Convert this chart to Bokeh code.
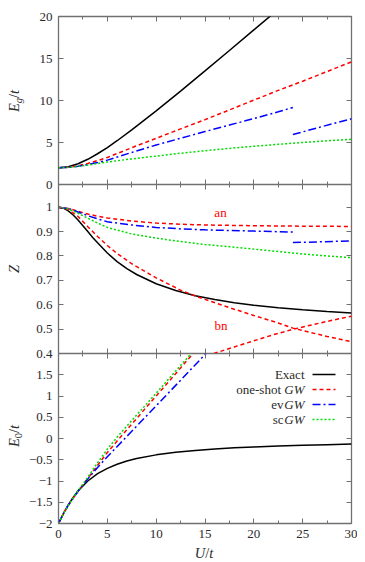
from bokeh.plotting import figure
from bokeh.models import (Range1d, LinearAxis, FixedTicker, CustomJSTickFormatter, Label,
                          CustomLabelingPolicy, Div)
from bokeh.layouts import column
from bokeh.embed import file_html
from bokeh.resources import INLINE

# ---------------- data ----------------
# top panel: E_g / t
u_eg_exact = [0, 1, 2, 3, 4, 5, 6, 7.5, 10, 12.5, 15, 17.5, 20, 22.5]
eg_exact = [2.0, 2.12, 2.47, 3.0, 3.66, 4.40, 5.21, 6.5, 8.77, 11.12, 13.52, 15.95, 18.40, 20.85]
u_eg_g0w0 = [0, 1, 2, 3, 4, 5, 7.5, 10, 12.5, 15, 17.5, 20, 22.5, 25, 27.5, 30]
eg_g0w0 = [2.0, 2.05, 2.22, 2.5, 2.85, 3.22, 4.38, 5.5, 6.62, 7.72, 8.88, 10.05, 11.2, 12.3, 13.45, 14.6]
u_eg_evgw_a = [0, 1, 2, 3, 4, 5, 7.5, 10, 12.5, 15, 17.5, 20, 22.5, 24]
eg_evgw_a = [2.0, 2.04, 2.17, 2.37, 2.62, 2.9, 3.82, 4.7, 5.5, 6.3, 7.08, 7.85, 8.65, 9.17]
u_eg_evgw_b = [24, 27, 30]
eg_evgw_b = [5.95, 6.9, 7.82]
u_eg_scgw = [0, 1, 2, 3, 4, 5, 7.5, 10, 12.5, 15, 17.5, 20, 22.5, 25, 27.5, 30]
eg_scgw = [2.0, 2.04, 2.16, 2.3, 2.5, 2.68, 3.05, 3.38, 3.72, 4.02, 4.3, 4.55, 4.78, 5.0, 5.2, 5.38]

# middle panel: Z
u_z_exact = [0, 0.5, 1, 1.5, 2, 2.5, 3, 3.5, 4, 5, 6, 7, 8, 10, 12, 14, 16, 18, 20, 22.5, 25, 27.5, 30]
z_exact = [1.0, 0.996, 0.985, 0.968, 0.947, 0.924, 0.9, 0.876, 0.854, 0.812, 0.777, 0.748, 0.724,
           0.686, 0.658, 0.637, 0.621, 0.608, 0.598, 0.588, 0.579, 0.572, 0.566]
u_z_g0w0_an = [0, 1, 2, 3, 4, 5, 7.5, 10, 12.5, 15, 20, 25, 30]
z_g0w0_an = [1.0, 0.995, 0.983, 0.972, 0.963, 0.956, 0.943, 0.935, 0.93, 0.927, 0.924, 0.922, 0.921]
u_z_g0w0_bn = [0, 1, 2, 3, 4, 5, 6, 7.5, 10, 12.5, 14, 15, 17.5, 20, 22.5, 24, 25, 27.5, 30]
z_g0w0_bn = [1.0, 0.99, 0.962, 0.92, 0.88, 0.843, 0.81, 0.768, 0.71, 0.66, 0.636, 0.622, 0.588,
             0.556, 0.525, 0.504, 0.494, 0.47, 0.448]
u_z_g0w0_rise = [15.9, 18, 20, 22, 24.1, 26, 28, 30]
z_g0w0_rise = [0.4, 0.427, 0.452, 0.477, 0.5, 0.518, 0.536, 0.553]
u_z_evgw_a = [0, 1, 2, 3, 4, 5, 7.5, 10, 12.5, 15, 20, 24]
z_evgw_a = [1.0, 0.995, 0.98, 0.965, 0.952, 0.94, 0.927, 0.917, 0.911, 0.907, 0.902, 0.898]
u_z_evgw_b = [24, 27, 30]
z_evgw_b = [0.855, 0.858, 0.862]
u_z_scgw = [0, 1, 2, 3, 4, 5, 7.5, 10, 12.5, 15, 17.5, 20, 22.5, 25, 27.5, 30]
z_scgw = [1.0, 0.993, 0.975, 0.955, 0.935, 0.917, 0.89, 0.873, 0.859, 0.847, 0.838, 0.828,
          0.818, 0.808, 0.8, 0.793]

# bottom panel: E_0 / t
u_e0_exact = [0, 0.5, 1, 1.5, 2, 3, 4, 5, 6, 7, 8, 10, 12, 14, 16, 18, 20, 22.5, 25, 27.5, 30]
e0_exact = [-2.0, -1.766, -1.562, -1.386, -1.236, -1.0, -0.828, -0.702, -0.606, -0.531, -0.472,
            -0.385, -0.325, -0.28, -0.246, -0.22, -0.198, -0.176, -0.159, -0.145, -0.132]
u_e0_g0w0 = [0, 0.5, 1, 2, 3, 4, 5, 6, 7.5, 10, 12.5, 13.8]
e0_g0w0 = [-2.0, -1.77, -1.57, -1.24, -0.94, -0.63, -0.33, -0.06, 0.34, 1.0, 1.66, 2.0]
u_e0_evgw = [0, 0.5, 1, 2, 3, 4, 5, 7.5, 10, 12.5, 15.1]
e0_evgw = [-2.0, -1.77, -1.57, -1.24, -0.95, -0.68, -0.43, 0.17, 0.77, 1.37, 2.0]
u_e0_scgw = [0, 0.5, 1, 2, 3, 4, 5, 6, 7.5, 10, 12.5, 13.6]
e0_scgw = [-2.0, -1.77, -1.57, -1.23, -0.91, -0.57, -0.25, 0.03, 0.42, 1.07, 1.72, 2.0]

# ticks
x_ticks = [0, 5, 10, 15, 20, 25, 30]
x_minor = [2.5, 7.5, 12.5, 17.5, 22.5, 27.5]
eg_ticks = [0, 5, 10, 15, 20]
z_ticks = [0.4, 0.5, 0.6, 0.7, 0.8, 0.9, 1.0]
e0_ticks = [-2, -1.5, -1, -0.5, 0, 0.5, 1, 1.5]

legend_names = ["Exact", "one-shot", "ev", "sc"]
legend_suffix = ["", "GW", "GW", "GW"]

# ---------------- styles ----------------
FONT = "Liberation Serif"
GRAY = "#707070"
TXT = "#2a2a2a"
C_EX, C_G0, C_EV, C_SC = "#000000", "#ff0000", "#0000ff", "#00dd00"
D_G0, D_EV, D_SC = "4 3", "8 3 2 3", "2 2"
LW = 1.5

W = 357
FL = 58          # frame left
FT = 16          # frame top
FW = 293         # frame width
H_TOP, H_MID, H_BOT = 168, 169, 170
B_BOT = 37
TOTAL_H = FT + H_TOP + H_MID + H_BOT + B_BOT   # 560
MID_TOP = 1.093

xr = Range1d(0, 30)
fmt = CustomJSTickFormatter(code="return tick < 0 ? '\\u2212' + String(-tick) : String(tick);")
no_labels = CustomLabelingPolicy(code="for (const i of [...indices]) indices.unset(i)")

# helpers converting layout pixels to data (for annotations only)
def ux(xpx):
    return (xpx - FL) * 30.0 / FW

def mid_y(ypx):
    return 0.4 + (353 - ypx) * (MID_TOP - 0.4) / H_MID

def bot_y(ypx):
    return 2 - (ypx - 353) * 4.0 / H_BOT


def style_axis(ax, ticks, minor, labels):
    ax.ticker = FixedTicker(ticks=ticks, minor_ticks=minor)
    ax.axis_line_color = None
    ax.major_tick_in = 5
    ax.major_tick_out = 0
    ax.minor_tick_in = 3
    ax.minor_tick_out = 0
    ax.major_tick_line_color = GRAY
    ax.minor_tick_line_color = GRAY if minor else None
    if labels:
        ax.formatter = fmt
        ax.major_label_text_font = FONT
        ax.major_label_text_font_size = "13px"
        ax.major_label_text_color = TXT
        ax.major_label_standoff = 6
    else:
        ax.major_label_text_font_size = "0px"
        ax.major_label_standoff = 0
        ax.major_label_policy = no_labels


def make(height, y0, y1, yticks, btop, bbot, xlabels, mtop):
    p = figure(width=W, height=height, x_range=xr, y_range=Range1d(y0, y1),
               output_backend="svg", toolbar_location=None,
               min_border_left=FL, min_border_right=W - FL - FW,
               min_border_top=btop, min_border_bottom=bbot)
    p.margin = (mtop, 0, 0, 0)
    p.border_fill_alpha = 0
    p.background_fill_color = "white"
    p.outline_line_color = GRAY
    p.outline_line_width = 1.3
    p.xgrid.visible = False
    p.ygrid.visible = False
    style_axis(p.xaxis[0], x_ticks, x_minor, xlabels)
    style_axis(p.yaxis[0], yticks, [], True)
    top_ax = LinearAxis()
    style_axis(top_ax, x_ticks, x_minor, False)
    p.add_layout(top_ax, "above")
    right_ax = LinearAxis()
    style_axis(right_ax, yticks, [], False)
    p.add_layout(right_ax, "right")
    return p


def lab(p, x, y, text, size="13px", style="normal", color=TXT, align="center"):
    p.add_layout(Label(x=x, y=y, text=text, text_font=FONT,
                       text_font_style=style, text_font_size=size, text_color=color,
                       text_align=align, text_baseline="middle"))


# ---------------- axis titles (HTML, behind transparent figure borders) ----------------
def vtitle(cx, cy, inner):
    return ('<div style="position:absolute;left:%dpx;top:%dpx;white-space:nowrap;'
            'transform:translate(-50%%,-50%%) rotate(-90deg);font-size:14.5px;line-height:1">%s</div>'
            % (cx, cy, inner))

SUB = '<span style="font-size:10.5px;position:relative;top:3px">%s</span>'
titles_html = (
    '<div style="position:relative;width:%dpx;height:%dpx;font-family:\'Liberation Serif\';color:%s">'
    % (W, TOTAL_H, TXT)
    + vtitle(14, 101, '<i>E</i>' + SUB % '<i>g</i>' + '/<i>t</i>')
    + vtitle(14, 269, '<i>Z</i>')
    + vtitle(14, 436, '<i>E</i>' + SUB % '0' + '/<i>t</i>')
    + '<div style="position:absolute;left:204px;top:553px;white-space:nowrap;'
      'transform:translate(-50%,-50%);font-size:14.5px;line-height:1"><i>U</i>/<i>t</i></div>'
    + '</div>'
)
titles = Div(text=titles_html, width=W, height=TOTAL_H, margin=0)

# ---------------- top panel ----------------
p1 = make(FT + H_TOP + 8, 0, 20, eg_ticks, FT, 8, False, -TOTAL_H)
p1.line(u_eg_exact, eg_exact, line_color=C_EX, line_width=LW)
p1.line(u_eg_g0w0, eg_g0w0, line_color=C_G0, line_width=LW, line_dash=D_G0)
p1.line(u_eg_evgw_a, eg_evgw_a, line_color=C_EV, line_width=LW, line_dash=D_EV)
p1.line(u_eg_evgw_b, eg_evgw_b, line_color=C_EV, line_width=LW, line_dash=D_EV)
p1.line(u_eg_scgw, eg_scgw, line_color=C_SC, line_width=LW, line_dash=D_SC)

# ---------------- middle panel ----------------
p2 = make(H_MID + 8, 0.4, MID_TOP, z_ticks, 0, 8, False, -8)
p2.line(u_z_exact, z_exact, line_color=C_EX, line_width=LW)
p2.line(u_z_g0w0_an, z_g0w0_an, line_color=C_G0, line_width=LW, line_dash=D_G0)
p2.line(u_z_g0w0_bn, z_g0w0_bn, line_color=C_G0, line_width=LW, line_dash=D_G0)
p2.line(u_z_g0w0_rise, z_g0w0_rise, line_color=C_G0, line_width=LW, line_dash=D_G0)
p2.line(u_z_evgw_a, z_evgw_a, line_color=C_EV, line_width=LW, line_dash=D_EV)
p2.line(u_z_evgw_b, z_evgw_b, line_color=C_EV, line_width=LW, line_dash=D_EV)
p2.line(u_z_scgw, z_scgw, line_color=C_SC, line_width=LW, line_dash=D_SC)
lab(p2, ux(220), mid_y(212), "an", color=C_G0)
lab(p2, ux(220.5), mid_y(325), "bn", color=C_G0)

# ---------------- bottom panel ----------------
p3 = make(H_BOT + B_BOT, -2, 2, e0_ticks, 0, B_BOT, True, -8)
p3.xaxis[0].major_label_standoff = 8
p3.line(u_e0_exact, e0_exact, line_color=C_EX, line_width=LW)
p3.line(u_e0_g0w0, e0_g0w0, line_color=C_G0, line_width=LW, line_dash=D_G0)
p3.line(u_e0_evgw, e0_evgw, line_color=C_EV, line_width=LW, line_dash=D_EV)
p3.line(u_e0_scgw, e0_scgw, line_color=C_SC, line_width=LW, line_dash=D_SC)

# legend (manual: text right-aligned, sample on the right as in the reference)
rows_px = [374, 389, 404, 419]
colors = [C_EX, C_G0, C_EV, C_SC]
dashes = ["solid", D_G0, D_EV, D_SC]
GW_W = 20.5
for name, suf, ypx, col, dash in zip(legend_names, legend_suffix, rows_px, colors, dashes):
    yy = bot_y(ypx)
    if suf:
        lab(p3, ux(304), yy, suf, style="italic", align="right")
        gap = 3 if name == "one-shot" else 0.5
        lab(p3, ux(304 - GW_W - gap), yy, name, align="right")
    else:
        lab(p3, ux(304), yy, name, align="right")
    p3.segment(x0=[ux(312)], y0=[yy], x1=[ux(335)], y1=[yy], line_color=col,
               line_width=LW, line_dash=dash)

layout = column(titles, p1, p2, p3, spacing=0)
open("out.html", "w").write(file_html(layout, INLINE))
